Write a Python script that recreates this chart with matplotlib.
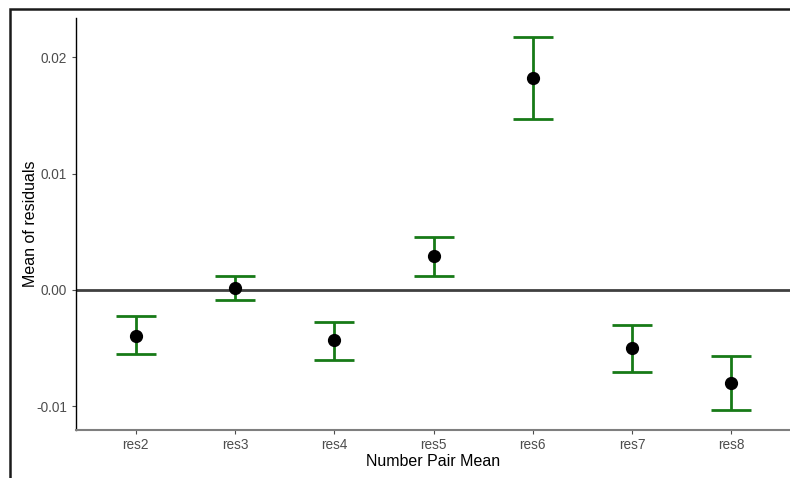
import numpy as np
import matplotlib.pyplot as plt
from matplotlib.patches import Rectangle

plt.rcParams['font.family'] = ['Liberation Sans', 'DejaVu Sans']

# data
labels = ['res2', 'res3', 'res4', 'res5', 'res6', 'res7', 'res8']
means = [-0.00395, 0.00017, -0.0043, 0.0029, 0.0182, -0.0050, -0.0080]
upper = [-0.00223, 0.0012, -0.00275, 0.00455, 0.0217, -0.0030, -0.00567]
lower = [-0.0055, -0.00086, -0.0060, 0.0012, 0.01468, -0.0070, -0.0103]

x = np.arange(1, len(labels) + 1)
means = np.array(means)
yerr = [means - np.array(lower), np.array(upper) - means]

fig = plt.figure(figsize=(7.9, 4.78), dpi=100)
ax = fig.add_axes([76 / 790, 48 / 478, 715 / 790, 412 / 478])

ax.axhline(0, color='#404040', linewidth=2.0, zorder=1)
ax.errorbar(x, means, yerr=yerr, fmt='none', ecolor='#177A17',
            elinewidth=2.0, capsize=14.5, capthick=2.0, zorder=2)
ax.plot(x, means, 'o', color='black', markersize=8.5, zorder=3)

ax.set_xlim(0.4, 7.6)
ax.set_ylim(-0.01202, 0.02335)
ax.set_yticks([-0.01, 0.0, 0.01, 0.02])
ax.set_yticklabels(['-0.01', '0.00', '0.01', '0.02'])
ax.set_xticks(x)
ax.set_xticklabels(labels)

for s in ['top', 'right']:
    ax.spines[s].set_visible(False)
ax.spines['left'].set_color('black')
ax.spines['left'].set_linewidth(1.0)
ax.spines['bottom'].set_color('#7F7F7F')
ax.spines['bottom'].set_linewidth(1.5)
ax.tick_params(axis='both', colors='#4D4D4D', labelsize=9.8, length=3, width=0.8)
ax.tick_params(axis='x', pad=2.5)

ax.set_xlabel('Number Pair Mean', fontsize=11.5, color='black', labelpad=2)
ax.set_ylabel('Mean of residuals', fontsize=11.5, color='black')
ax.yaxis.set_label_coords(-38 / 715, 0.5)

# outer frame of the original screenshot
fig.patches.append(Rectangle((9.5 / 790, -0.1), 1.2, (478 - 9.5) / 478 + 0.1,
                             transform=fig.transFigure, fill=False,
                             edgecolor='#1A1A1A', linewidth=1.8))

fig.savefig('out.png', dpi=100)
